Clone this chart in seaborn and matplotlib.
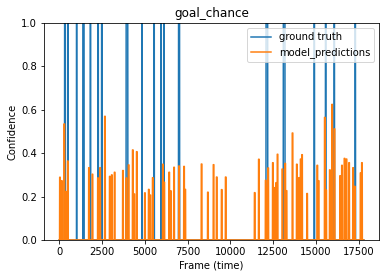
import numpy as np
import pandas as pd
import matplotlib
matplotlib.use("Agg")
import matplotlib.pyplot as plt
import seaborn as sns

# ground truth: frame intervals where goal_chance == 1
gt_start = [309, 502, 1010, 1375, 1810, 2254, 2470, 3905, 4824, 5525, 5933, 6109,
            6967, 12080, 13090, 14892, 15552, 16060, 17286]
gt_end = [356, 514, 1016, 1450, 1834, 2283, 2500, 4005, 4836, 5554, 5963, 6120,
          7031, 12180, 13190, 14915, 15581, 16083, 17310]

# model predictions: centre frame and confidence of each spike
pred_frame = [40, 146, 292, 391, 500, 1735, 1939, 2260, 2385, 2668, 2952, 3069,
              3235, 3720, 3916, 4053, 4295, 4383, 4529, 5004, 5230, 5317, 5463,
              6056, 6135, 6424, 6523, 6707, 6999, 7291, 7361, 8316, 8684, 9016,
              9200, 9492, 9726, 11420, 11662, 12062, 12131, 12208, 12481, 12569,
              12676, 12754, 13037, 13203, 13280, 13630, 13881, 14010, 14107,
              14186, 14483, 15079, 15155, 15516, 15595, 15810, 15943, 16083,
              16413, 16519, 16667, 16784, 16936, 17169, 17269, 17610, 17686]
pred_conf = [0.289, 0.273, 0.535, 0.223, 0.364, 0.333, 0.303, 0.286, 0.333, 0.570,
             0.293, 0.300, 0.312, 0.320, 0.286, 0.346, 0.415, 0.212, 0.407, 0.217,
             0.233, 0.207, 0.287, 0.349, 0.266, 0.312, 0.226, 0.335, 0.341, 0.339,
             0.233, 0.350, 0.220, 0.347, 0.290, 0.232, 0.290, 0.218, 0.372, 0.275,
             0.241, 0.332, 0.356, 0.241, 0.264, 0.395, 0.327, 0.353, 0.227, 0.493,
             0.349, 0.287, 0.373, 0.393, 0.214, 0.344, 0.273, 0.565, 0.230, 0.323,
             0.625, 0.512, 0.296, 0.344, 0.376, 0.373, 0.356, 0.333, 0.247, 0.309,
             0.356]

n_frames = 17800
half_w = 20

frames = np.arange(n_frames)
truth = np.zeros(n_frames)
for s, e in zip(gt_start, gt_end):
    truth[s:e + 1] = 1.0
preds = np.zeros(n_frames)
for f, c in zip(pred_frame, pred_conf):
    preds[max(f - half_w, 0):f + half_w + 1] = c

df = pd.DataFrame({"frame": frames, "truth": truth, "pred": preds})

fig, ax = plt.subplots(figsize=(386 / 72, 278 / 72), dpi=72)
fig.subplots_adjust(left=0.114, right=0.982, bottom=0.137, top=0.917)

sns.lineplot(data=df, x="frame", y="truth", label="ground truth", color="C0", ax=ax)
sns.lineplot(data=df, x="frame", y="pred", label="model_predictions", color="C1", ax=ax)

ax.set_ylim(0, 1)
ax.set_title("goal_chance")
ax.set_xlabel("Frame (time)")
ax.set_ylabel("Confidence")
ax.legend(loc="upper right")

fig.savefig("out.png", dpi=72)
